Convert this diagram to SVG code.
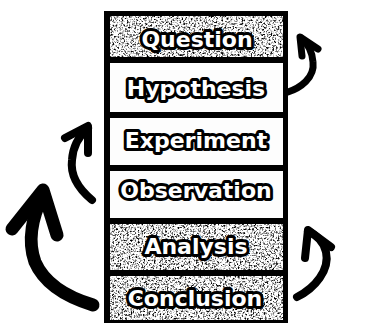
<svg xmlns="http://www.w3.org/2000/svg" width="387" height="325" viewBox="0 0 387 325">
<style>
.lbl{font-family:"DejaVu Sans","Liberation Sans",sans-serif;font-weight:bold;font-size:22px;fill:#fff;stroke:#000;stroke-width:6;stroke-linejoin:round;paint-order:stroke;text-anchor:middle}
.white{fill:#fdfdfd}
.gray{fill:#aaa;filter:url(#grain)}
.arr{fill:none;stroke:#000;stroke-linecap:round;stroke-linejoin:round}
</style>
<defs>
<filter id="grain" x="0" y="0" width="1" height="1" color-interpolation-filters="sRGB">
<feTurbulence type="fractalNoise" baseFrequency="0.55" numOctaves="3" seed="4" result="n"/>
<feColorMatrix in="n" type="matrix" values="0 0 0 1 0  0 0 0 1 0  0 0 0 1 0  0 0 0 0 1" result="g"/>
<feComponentTransfer in="g" result="t">
<feFuncR type="linear" slope="3.5" intercept="-0.85"/>
<feFuncG type="linear" slope="3.5" intercept="-0.85"/>
<feFuncB type="linear" slope="3.5" intercept="-0.85"/>
</feComponentTransfer>
<feComposite in="t" in2="SourceGraphic" operator="in"/>
</filter>
</defs>
<rect width="387" height="325" fill="#fff"/>
<rect x="104" y="11" width="184" height="312" fill="#000"/>
<g id="question"><rect class="gray" x="110" y="16" width="173" height="41"/><text class="lbl" x="197" y="47">Question</text></g>
<g id="hypothesis"><rect class="white" x="110" y="63" width="173" height="49"/><text class="lbl" x="196" y="96">Hypothesis</text></g>
<g id="experiment"><rect class="white" x="110" y="118" width="173" height="47"/><text class="lbl" x="196" y="148">Experiment</text></g>
<g id="observation"><rect class="white" x="110" y="171" width="173" height="47"/><text class="lbl" x="196" y="198">Observation</text></g>
<g id="analysis"><rect class="gray" x="110" y="224" width="173" height="46"/><text class="lbl" x="196" y="254">Analysis</text></g>
<g id="conclusion"><rect class="gray" x="110" y="276" width="173" height="44"/><text class="lbl" x="195" y="306">Conclusion</text></g>
<g id="connectors">
<path class="arr" stroke-width="7" d="M288,92 C300,88 315,78 313,62 C312,50 306,42 301,38"/>
<path class="arr" stroke-width="7" d="M302,56 L300,37 L318,49"/>
<path class="arr" stroke-width="8" d="M297,297 C315,288 330,270 326,252 C324,242 316,235 308,231"/>
<path class="arr" stroke-width="8" d="M305,258 L308,230 L331,247"/>
<path class="arr" stroke-width="8" d="M92,200 C80,190 70,176 72,160 C73,145 80,135 88,128"/>
<path class="arr" stroke-width="8" d="M65,138 L88,126 L88,153"/>
<path class="arr" stroke-width="13" d="M93,305 C70,298 45,285 35,262 C27,240 33,215 43,195"/>
<path class="arr" stroke-width="13" d="M12,229 L43,190 L57,235"/>
</g>
</svg>
